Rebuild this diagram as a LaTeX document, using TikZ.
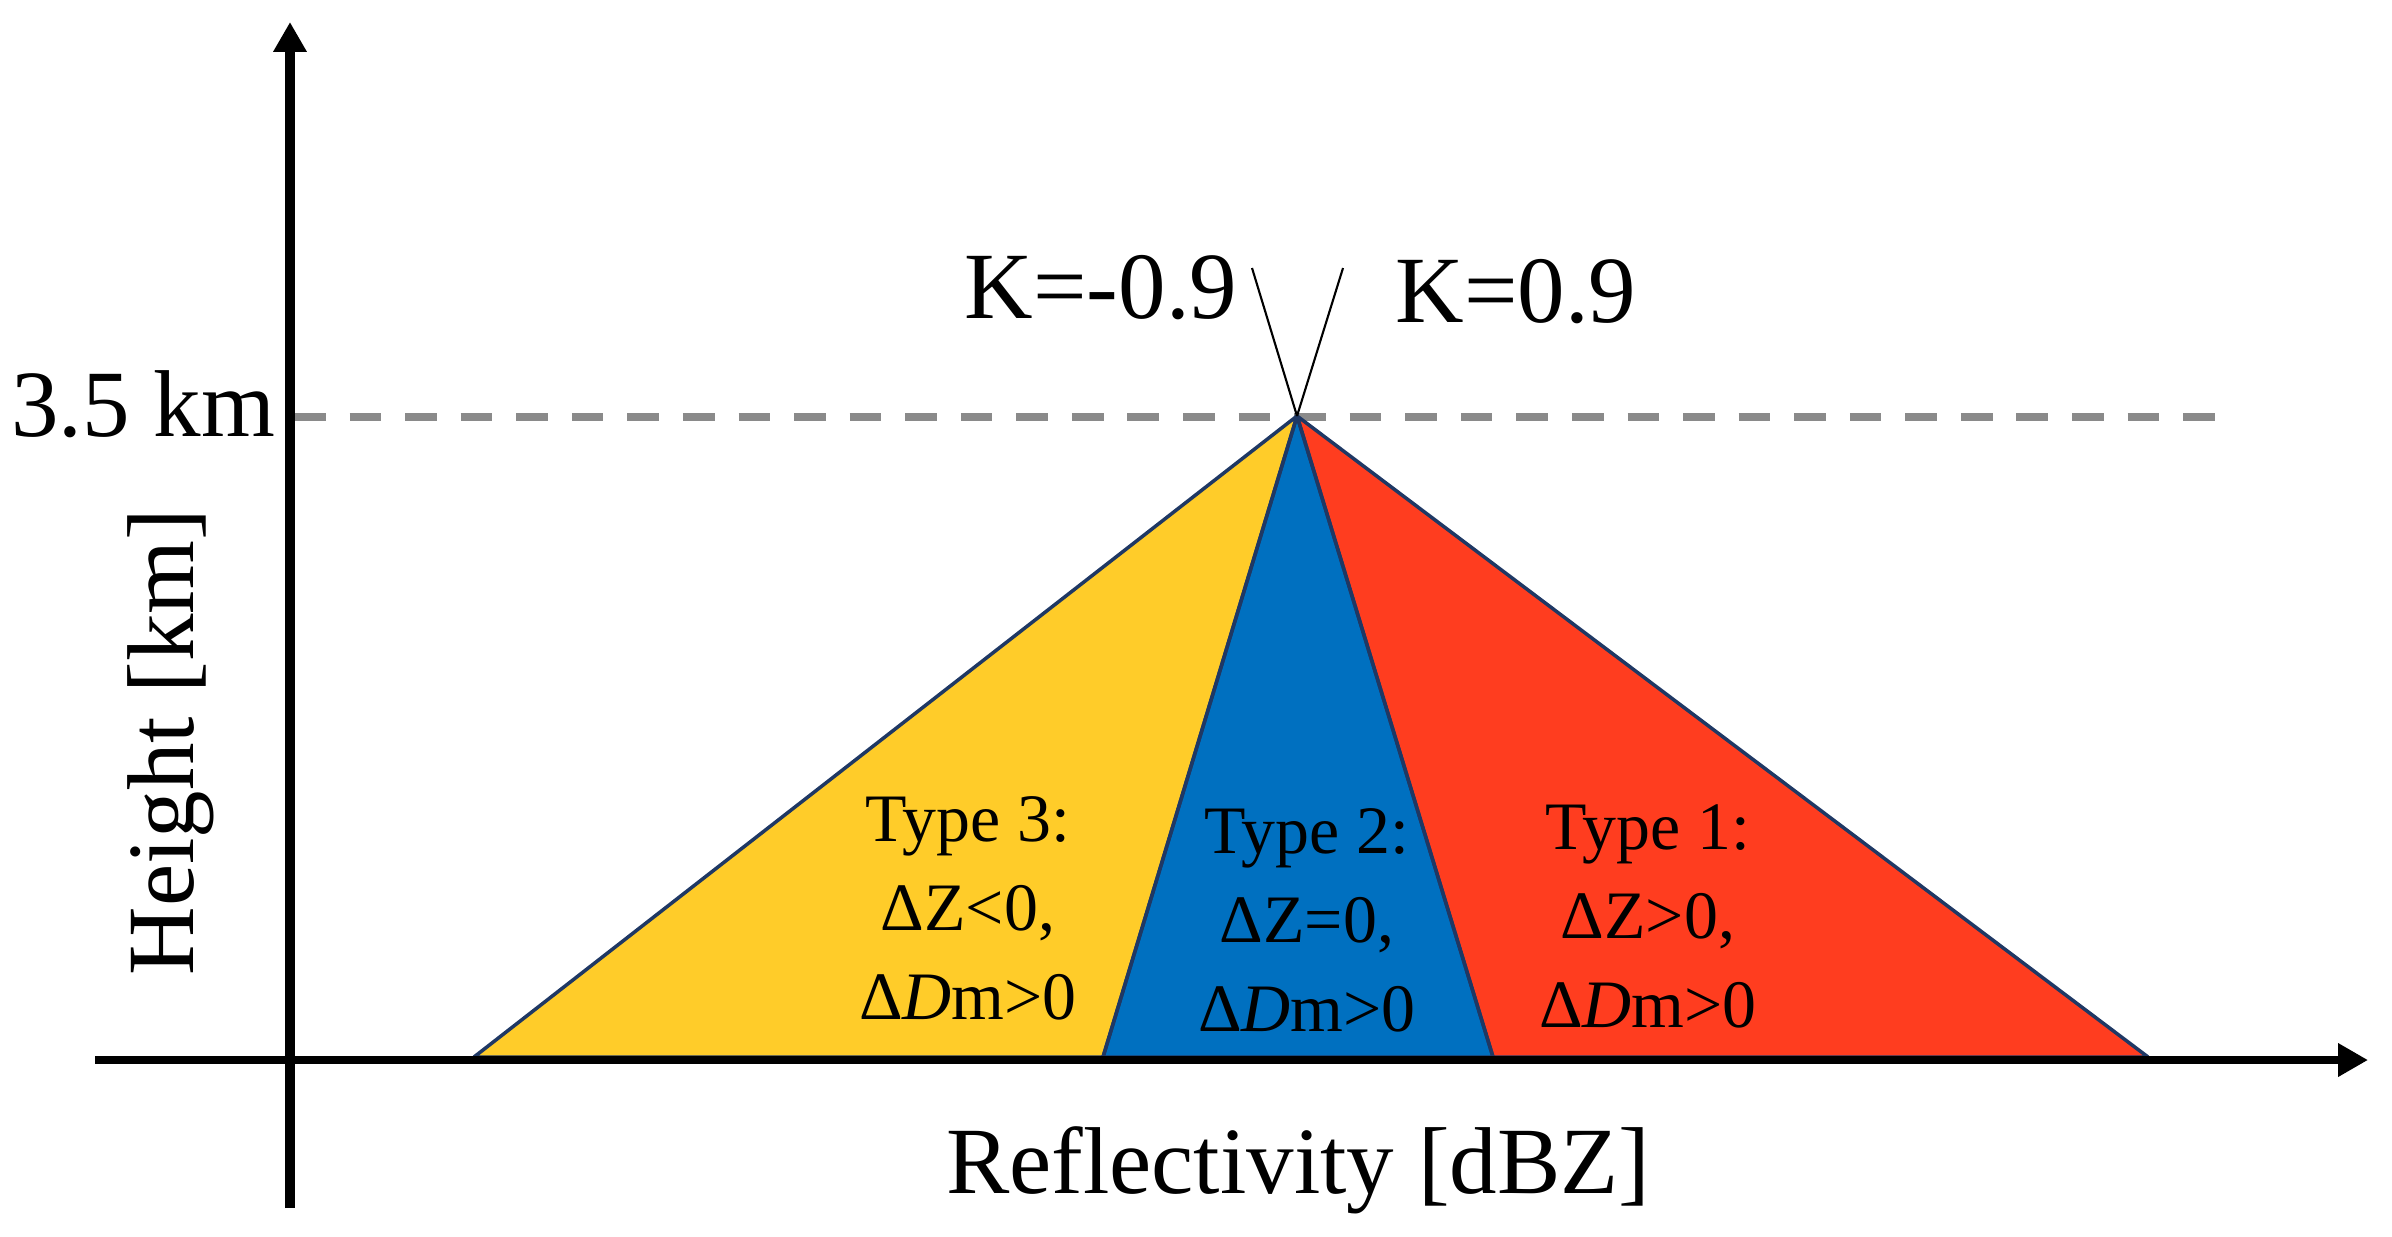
\documentclass[tikz,border=0pt]{standalone}
\usepackage{fontspec}
\setmainfont{Liberation Serif}
\usetikzlibrary{arrows.meta}
\definecolor{ylw}{HTML}{FFCC29}
\definecolor{blu}{HTML}{0070C0}
\definecolor{rd}{HTML}{FF3D1F}
\definecolor{navy}{HTML}{1F3864}
\definecolor{dgray}{HTML}{8A8A8A}
\tikzset{
  region/.style={draw=navy, line width=1pt, line join=round},
  axisline/.style={line width=#1, -{Triangle[length=8.5pt,width=9pt]}},
  biglabel/.style={font=\fontsize{27pt}{32pt}\selectfont, inner sep=0pt},
  typelabel/.style={font=\fontsize{19.3pt}{25.3pt}\selectfont, align=center, inner sep=0pt},
  kline/.style={line width=0.6pt, black},
  levelline/.style={dgray, line width=2pt, dash pattern=on 9pt off 6.8pt}
}
\begin{document}
\begin{tikzpicture}[x=0.01cm,y=-0.01cm]
\useasboundingbox (0,0) rectangle (2392,1236);
% key points
\coordinate (apex) at (1297,416);
\coordinate (b1) at (474,1057);
\coordinate (b2) at (1103,1057);
\coordinate (b3) at (1493,1057);
\coordinate (b4) at (2148,1057);
\coordinate (kl) at (1252,268);
\coordinate (kr) at (1343,268);
\coordinate (lvs) at (294,417);
\coordinate (lve) at (2222,417);
\coordinate (xs) at (95,1060);
\coordinate (xe) at (2368,1060);
\coordinate (ys) at (290,1208);
\coordinate (ye) at (290,22);
% level line
\draw[levelline] (lvs) -- (lve);
% regions
\fill[ylw] (apex) -- (b1) -- (b2) -- cycle;
\fill[blu] (apex) -- (b2) -- (b3) -- cycle;
\fill[rd] (apex) -- (b3) -- (b4) -- cycle;
\draw[region] (apex) -- (b1) -- (b2) -- cycle;
\draw[region] (apex) -- (b2) -- (b3) -- cycle;
\draw[region] (apex) -- (b3) -- (b4) -- cycle;
% K lines
\draw[kline] (apex) -- (kl);
\draw[kline] (apex) -- (kr);
% axes
\draw[axisline=2.4pt] (xs) -- (xe);
\draw[axisline=2.9pt] (ys) -- (ye);
% labels
\node[biglabel, anchor=base] (km) at (143,436) {3.5 km};
\node[biglabel, anchor=base] (kneg) at (1101,318) {K=-0.9};
\node[biglabel, anchor=base] (kpos) at (1516,322) {K=0.9};
\node[biglabel, anchor=base, rotate=90] (ylab) at (193,742) {Height [km]};
\node[biglabel, anchor=base] (xlab) at (1298,1193) {Reflectivity [dBZ]};
\node[typelabel] (t3) at (968,908) {Type 3:\\ΔZ<0,\\Δ\textit{D}m>0};
\node[typelabel] (t2) at (1307,920) {Type 2:\\ΔZ=0,\\Δ\textit{D}m>0};
\node[typelabel] (t1) at (1648,916) {Type 1:\\ΔZ>0,\\Δ\textit{D}m>0};
\end{tikzpicture}
\end{document}
